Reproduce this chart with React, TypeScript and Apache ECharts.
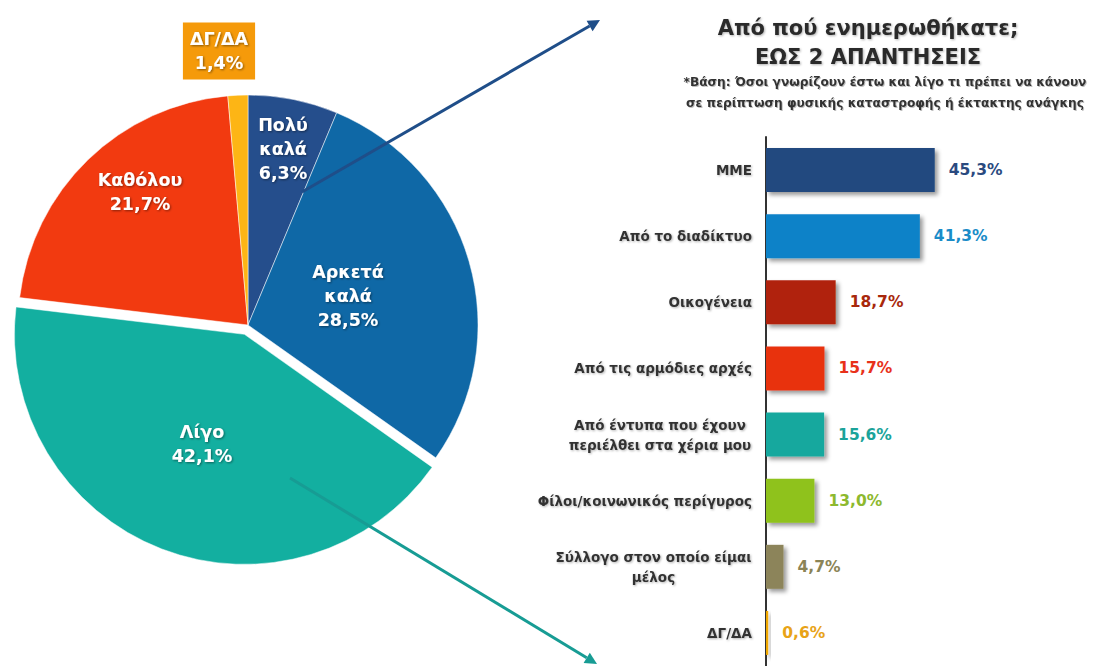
import React, { useEffect, useRef } from "react";
import * as echarts from "echarts";

const pieNames = ["Πολύ καλά", "Αρκετά καλά", "Λίγο", "Καθόλου", "ΔΓ/ΔΑ"];
const pieValues = [6.3, 28.5, 42.1, 21.7, 1.4];
const pieColors = ["#254E8C", "#0F68A6", "#13AFA0", "#F23A10", "#FDB515"];

const barCategories = [
  "ΜΜΕ",
  "Από το διαδίκτυο",
  "Οικογένεια",
  "Από τις αρμόδιες αρχές",
  "Από έντυπα που έχουν\nπεριέλθει στα χέρια μου",
  "Φίλοι/κοινωνικός περίγυρος",
  "Σύλλογο στον οποίο είμαι\nμέλος",
  "ΔΓ/ΔΑ",
];
const barValues = [45.3, 41.3, 18.7, 15.7, 15.6, 13.0, 4.7, 0.6];
const barColors = ["#24497F", "#0A82C8", "#B0240A", "#E83010", "#14A89E", "#8FC21E", "#8C845A", "#F0A800"];
const barLabelColors = ["#2A4A7F", "#1A8CC8", "#A8280C", "#E8311A", "#1BA39A", "#8DB92E", "#8B8456", "#E8A317"];

const titleLines = ["Από πού ενημερωθήκατε;", "ΕΩΣ 2 ΑΠΑΝΤΗΣΕΙΣ"];
const subtitleLines = [
  "*Βάση: Όσοι γνωρίζουν έστω και λίγο τι πρέπει να κάνουν",
  "σε περίπτωση φυσικής καταστροφής ή έκτακτης ανάγκης",
];

// label anchor positions for pie labels (layout only)
const pieLabelPos = [
  [283, 149],
  [348, 296],
  [223, 455],
  [140, 192],
  [219, 51],
];

const FONT = "DejaVu Sans";
const CAT_SIZE = 13.5;
const fmt = (v: number) => v.toFixed(1).replace(".", ",") + "%";

function measure(text: string, font: string) {
  const c = document.createElement("canvas").getContext("2d");
  if (!c) return text.length * 8;
  c.font = font;
  return c.measureText(text).width;
}

export default function App() {
  const ref = useRef<HTMLDivElement>(null);
  useEffect(() => {
    document.body.style.margin = "0";
    if (!ref.current) return;
    const chart = echarts.init(ref.current, undefined, { renderer: "svg" });
    const shadow = {
      textShadowColor: "rgba(0,0,0,0.45)",
      textShadowBlur: 2,
      textShadowOffsetX: 1,
      textShadowOffsetY: 1,
    };
    const catFont = `bold ${CAT_SIZE}px "${FONT}"`;
    const rich: any = {};
    barCategories.forEach((c, i) => {
      if (c.includes("\n")) {
        const w = Math.max(...c.split("\n").map((l) => measure(l, catFont)));
        rich["c" + i] = {
          width: Math.ceil(w) + 1,
          align: "center",
          fontFamily: FONT,
          fontWeight: "bold",
          fontSize: CAT_SIZE,
          lineHeight: 20,
          color: "#333333",
        };
      }
    });
    const option: any = {
      animation: false,
      backgroundColor: "#ffffff",
      title: [
        {
          text: titleLines.join("\n"),
          left: 863,
          top: 8,
          textAlign: "center",
          textStyle: {
            fontFamily: FONT,
            fontWeight: "bold",
            fontSize: 21,
            lineHeight: 29,
            color: "#2B2B2B",
            textShadowColor: "rgba(0,0,0,0.3)",
            textShadowBlur: 2,
            textShadowOffsetX: 1,
            textShadowOffsetY: 1,
          },
        },
        {
          text: subtitleLines.join("\n"),
          left: 880,
          top: 66,
          textAlign: "center",
          textStyle: {
            fontFamily: FONT,
            fontWeight: "bold",
            fontSize: 12.2,
            lineHeight: 21,
            color: "#333333",
            textShadowColor: "rgba(0,0,0,0.25)",
            textShadowBlur: 1,
            textShadowOffsetX: 1,
            textShadowOffsetY: 1,
          },
        },
      ],
      grid: { left: 766, top: 137, width: 298, height: 536, containLabel: false },
      xAxis: { type: "value", min: 0, max: 80, show: false },
      yAxis: {
        type: "category",
        inverse: true,
        data: barCategories,
        axisLine: { show: true, lineStyle: { color: "#333333", width: 2 } },
        axisTick: { show: false },
        axisLabel: {
          margin: 14,
          fontFamily: FONT,
          fontWeight: "bold",
          fontSize: CAT_SIZE,
          lineHeight: 20,
          color: "#333333",
          ...shadow,
          textShadowColor: "rgba(0,0,0,0.3)",
          formatter: (v: string, idx: number) =>
            v.includes("\n") ? v.split("\n").map((l) => "{c" + idx + "|" + l + "}").join("\n") : v,
          rich,
        },
        splitLine: { show: false },
      },
      series: [
        {
          type: "pie",
          center: [248, 325],
          radius: [0, 230],
          startAngle: 90,
          clockwise: true,
          selectedMode: "single",
          selectedOffset: 10,
          avoidLabelOverlap: false,
          silent: true,
          itemStyle: { borderColor: "#ffffff", borderWidth: 0.5 },
          label: {
            show: true,
            position: "inside",
            fontFamily: FONT,
            fontWeight: "bold",
            fontSize: 17.5,
            lineHeight: 24,
            color: "#ffffff",
            ...shadow,
            formatter: (p: any) => p.name.split(" ").join("\n") + "\n" + fmt(p.value),
          },
          labelLine: { show: false },
          labelLayout: (p: any) => ({ x: pieLabelPos[p.dataIndex][0], y: pieLabelPos[p.dataIndex][1] }),
          data: pieNames.map((n, i) => ({
            name: n,
            value: pieValues[i],
            selected: i === 2,
            itemStyle: { color: pieColors[i] },
            label:
              i === 4
                ? { backgroundColor: "#F59A0A", padding: [5, 7, 4, 7] }
                : undefined,
          })),
          z: 2,
        },
        {
          type: "bar",
          barWidth: 44,
          silent: true,
          data: barValues.map((v, i) => ({
            value: v,
            itemStyle: {
              color: barColors[i],
              shadowColor: "rgba(0,0,0,0.4)",
              shadowBlur: 4,
              shadowOffsetX: 3,
              shadowOffsetY: 3,
            },
            label: { color: barLabelColors[i] },
          })),
          label: {
            show: true,
            position: "right",
            distance: 14,
            fontFamily: FONT,
            fontWeight: "bold",
            fontSize: 15.5,
            formatter: (p: any) => fmt(p.value),
          },
        },
      ],
      graphic: [
        {
          type: "line",
          z: 100,
          shape: { x1: 302, y1: 192, x2: 589.6, y2: 26 },
          style: { stroke: "#1F4E89", lineWidth: 3 },
        },
        {
          type: "polygon",
          z: 100,
          shape: { points: [[600, 20], [592.6, 31.2], [586.6, 20.8]] },
          style: { fill: "#1F4E89" },
        },
        {
          type: "line",
          z: 100,
          shape: { x1: 290, y1: 478, x2: 586.7, y2: 657.8 },
          style: { stroke: "#179C94", lineWidth: 3 },
        },
        {
          type: "polygon",
          z: 100,
          shape: { points: [[597, 664], [583.6, 662.9], [589.8, 652.7]] },
          style: { fill: "#179C94" },
        },
      ],
    };
    chart.setOption(option);
    return () => chart.dispose();
  }, []);
  return <div ref={ref} style={{ width: 1099, height: 666 }} />;
}
